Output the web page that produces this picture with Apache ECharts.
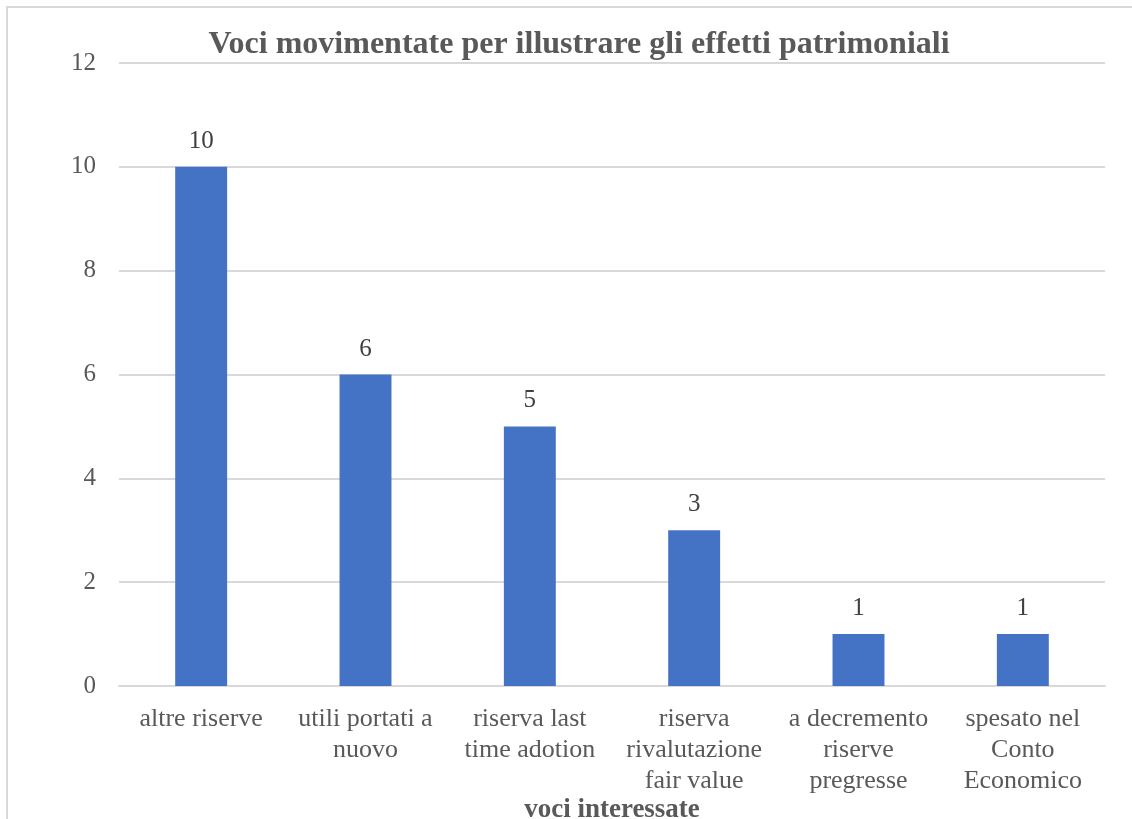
<!DOCTYPE html>
<html>
<head>
<meta charset="utf-8">
<script src="https://cdn.jsdelivr.net/npm/echarts@6/dist/echarts.min.js"></script>
<style>
html,body{margin:0;padding:0;background:#fff;}
#frame{position:absolute;left:6px;top:6px;width:1140px;height:830px;border-left:2px solid #d9d9d9;border-top:2px solid #d9d9d9;box-sizing:border-box;}
#chart{position:absolute;left:0;top:0;width:1132px;height:819px;}
</style>
</head>
<body>
<div id="frame"></div>
<div id="chart"></div>
<script>
const titleText = 'Voci movimentate per illustrare gli effetti patrimoniali';
const xAxisName = 'voci interessate';
const categories = ['altre riserve', 'utili portati a\nnuovo', 'riserva last\ntime adotion', 'riserva\nrivalutazione\nfair value', 'a decremento\nriserve\npregresse', 'spesato nel\nConto\nEconomico'];
const values = [10, 6, 5, 3, 1, 1];
const yTicks = {min: 0, max: 12, interval: 2};

const font = '"Liberation Serif", "Times New Roman", serif';
const chart = echarts.init(document.getElementById('chart'), null, {renderer: 'canvas'});
chart.setOption({
  backgroundColor: 'transparent',
  animation: false,
  title: {
    text: titleText,
    left: 574, top: 24, textAlign: 'center',
    textStyle: {fontFamily: font, fontSize: 32, fontWeight: 'bold', color: '#595959'}
  },
  grid: {left: 119, right: 27, top: 63, bottom: 133, containLabel: false, outerBoundsMode: 'none'},
  xAxis: {
    type: 'category',
    data: categories,
    name: xAxisName,
    nameLocation: 'middle',
    nameGap: 111,
    nameMoveOverlap: false,
    nameTextStyle: {fontFamily: font, fontSize: 27, fontWeight: 'bold', color: '#595959'},
    axisLine: {show: true, lineStyle: {color: '#d9d9d9', width: 2}},
    axisTick: {show: false},
    axisLabel: {fontFamily: font, fontSize: 26, color: '#595959', lineHeight: 31, margin: 18, interval: 0}
  },
  yAxis: {
    type: 'value',
    min: yTicks.min, max: yTicks.max, interval: yTicks.interval,
    axisLine: {show: false},
    axisTick: {show: false},
    axisLabel: {fontFamily: font, fontSize: 25, color: '#595959', margin: 23},
    splitLine: {lineStyle: {color: '#d9d9d9', width: 2}}
  },
  series: [{
    type: 'bar',
    data: values,
    barWidth: '31.6%',
    itemStyle: {color: '#4472C4'},
    label: {show: true, position: 'top', distance: 13, fontFamily: font, fontSize: 25, color: '#404040'}
  }]
});
</script>
</body>
</html>
